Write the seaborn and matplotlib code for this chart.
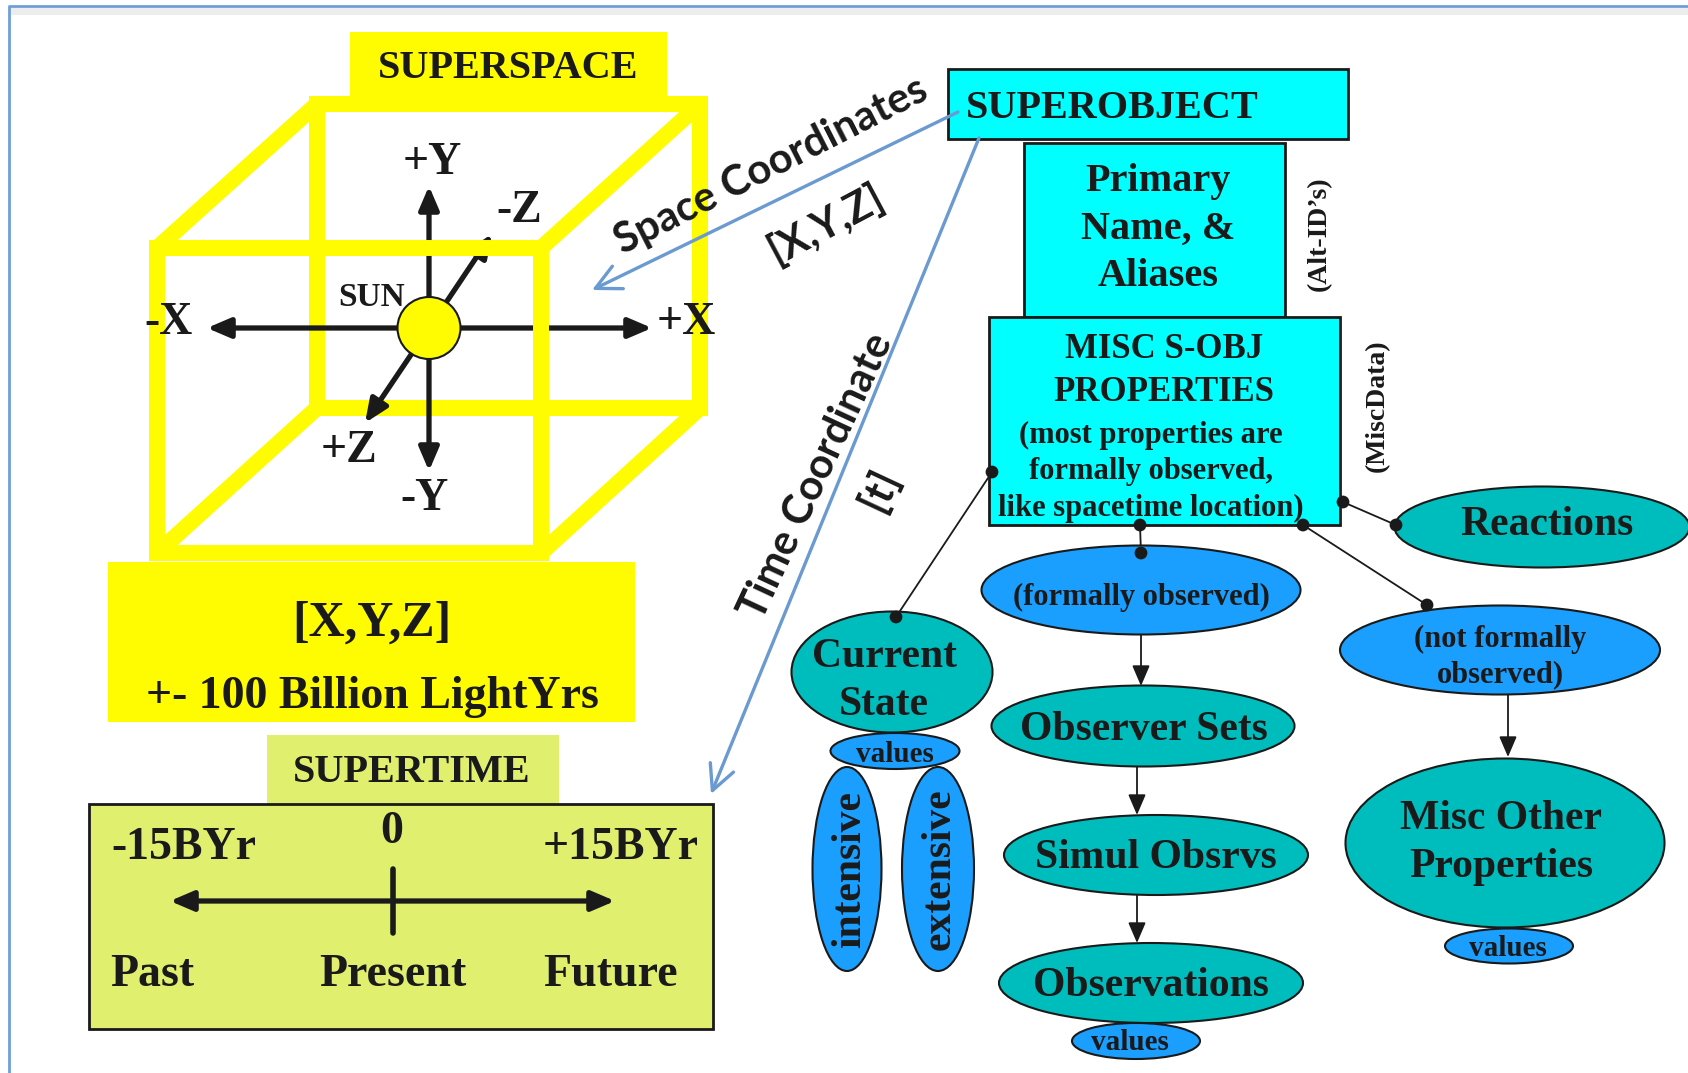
import pandas as pd
import seaborn as sns
import matplotlib.pyplot as plt
from matplotlib.patches import Rectangle, Ellipse, FancyArrowPatch

# ---- text content -------------------------------------------------------
space_title = "SUPERSPACE"
axis_names = ["+X", "-X", "+Y", "-Y", "+Z", "-Z"]
sun_label = "SUN"
space_range = ["[X,Y,Z]", "+- 100 Billion LightYrs"]
time_title = "SUPERTIME"
time_ticks = ["-15BYr", "0", "+15BYr"]
time_words = ["Past", "Present", "Future"]
arrow_labels = ["Space Coordinates", "[X,Y,Z]", "Time Coordinate", "[t]"]
box_labels = ["SUPEROBJECT", "Primary\nName, &\nAliases",
              "MISC S-OBJ\nPROPERTIES"]
misc_note = ["(most properties are", "formally observed,",
             "like spacetime location)"]
side_labels = ["(Alt-ID\u2019s)", "(MiscData)"]
node_labels = ["Reactions", "(formally observed)", "Current\nState", "values",
               "intensive", "extensive", "Observer Sets", "Simul Obsrvs",
               "Observations", "values", "(not formally\nobserved)",
               "Misc Other\nProperties", "values"]
node_kind = ["teal", "blue", "teal", "blue", "blue", "blue", "teal", "teal",
             "teal", "blue", "blue", "teal", "blue"]

# ---- layout (pixel space of the 1688 x 1073 canvas) ----------------------
W, H = 1688, 1073
node_xy = [(1542, 527), (1141, 590), (892, 672), (895, 751), (847, 869),
           (938, 869), (1143, 726), (1156, 855), (1151, 983), (1136, 1041),
           (1500, 650), (1505, 843), (1509, 946)]
node_wh = [(295, 81), (319, 89), (201, 121), (129, 36), (69, 204), (72, 204),
           (303, 81), (304, 80), (304, 80), (128, 36), (320, 89), (319, 169),
           (128, 35)]
node_txt = [(1547, 520), (1141, 592), (884, 676), (895, 749), (850, 869),
            (940, 869), (1144, 725), (1156, 853), (1151, 981), (1130, 1038),
            (1500, 652), (1501, 838), (1508, 943)]
node_size = [30, 22, 30, 21, 30, 30, 30, 30, 30, 21, 22, 30, 21]
node_rot = [0, 0, 0, 0, 90, 90, 0, 0, 0, 0, 0, 0, 0]
node_ls = [1.0, 1.0, 1.36, 1.0, 1.0, 1.0, 1.0, 1.0, 1.0, 1.0, 1.25, 1.37, 1.0]

connectors = [((992, 472), (896, 617)), ((1140, 525), (1141, 553)),
              ((1303, 525), (1427, 605)), ((1343, 502), (1396, 525))]
flow_arrows = [((1141, 635), (1141, 686)), ((1137, 767), (1137, 815)),
               ((1137, 895), (1137, 943)), ((1508, 695), (1508, 757))]

YELLOW = "#FFFB00"
LIME = "#E0EF6E"
CYAN = "#00FFFF"
TEAL = "#00BDBD"
BLUE = "#1A9FFF"
LINK = "#6A9AD0"
SERIF = ["Liberation Serif", "DejaVu Serif"]
SANS = ["Lato", "DejaVu Sans"]

sns.set_theme(style="white")
plt.rcParams["font.family"] = SERIF

fig = plt.figure(figsize=(W / 100, H / 100), dpi=100)
ax = fig.add_axes([0, 0, 1, 1])


def label(x, y, s, size, rot=0, family=SERIF, ha="center", z=10, ls=1.2):
    # matplotlib centres on the full line box; nudge flat text onto the caps
    dy = 5 if rot == 0 else 0
    ax.text(x, y + dy, s, fontsize=size, family=family, fontweight="bold",
            ha=ha, va="center", rotation=rot, rotation_mode="anchor",
            multialignment="center", linespacing=ls, zorder=z, color="k")


def arrow(p, q, style, lw, color="k", ms=20, z=2):
    ax.add_patch(FancyArrowPatch(p, q, arrowstyle=style, mutation_scale=ms,
                                 lw=lw, color=color, shrinkA=0, shrinkB=0,
                                 zorder=z))


HEAD = "-|>,head_length=0.7,head_width=0.3"

# page frame (left and top rule with a faint shadow)
ax.add_patch(Rectangle((10, 8), W, 7, fc="#EDEDED", ec="none", zorder=0))
ax.plot([9, 9, W], [H, 6, 6], color="#6F9FD6", lw=2, zorder=0.5)

# ---- superspace cube ----------------------------------------------------
ax.add_patch(Rectangle((350, 32), 317, 65, fc=YELLOW, ec="none", zorder=1))
label(508, 64, space_title, 29)
cube_lw = 11.5
ax.add_patch(Rectangle((317, 104), 383, 304, fill=False, ec=YELLOW,
                       lw=cube_lw, joinstyle="miter", zorder=1))
for (x1, y1), (x2, y2) in [((317, 104), (157, 248)), ((700, 104), (541, 248)),
                           ((317, 408), (157, 553)), ((700, 408), (541, 553))]:
    ax.plot([x1, x2], [y1, y2], color=YELLOW, lw=cube_lw,
            solid_capstyle="butt", zorder=1)

sun = (429, 328)
axis_tips = [(652, 328), (207, 328), (429, 186), (429, 471), (365, 423),
             (492, 234)]
for tip in axis_tips:
    arrow(sun, tip, HEAD, 3.8)
ax.add_patch(Rectangle((157, 248), 384, 305, fill=False, ec=YELLOW,
                       lw=cube_lw, joinstyle="miter", zorder=3))
ax.add_patch(Ellipse(sun, 63, 62, fc=YELLOW, ec="k", lw=1.5, zorder=4))
axis_txt = [(686, 318), (169, 318), (432, 158), (425, 494), (349, 446),
            (519, 206)]
for s, (x, y) in zip(axis_names, axis_txt):
    label(x, y, s, 33)
label(372, 292, sun_label, 24)

ax.add_patch(Rectangle((108, 562), 527, 160, fc=YELLOW, ec="none", zorder=1))
label(372, 619, space_range[0], 36)
label(372, 692, space_range[1], 33)

# ---- supertime ----------------------------------------------------------
ax.add_patch(Rectangle((267, 735), 292, 70, fc=LIME, ec="none", zorder=1))
label(412, 768, time_title, 29)
ax.add_patch(Rectangle((89, 804), 624, 225, fc=LIME, ec="k", lw=2, zorder=1))
for s, x, y in zip(time_ticks, [184, 392, 621], [843, 827, 843]):
    label(x, y, s, 33)
arrow((170, 901), (615, 901), "<|-|>,head_length=0.7,head_width=0.3", 3.8)
ax.plot([393, 393], [869, 933], color="k", lw=4, zorder=2)
for s, x in zip(time_words, [152, 393, 611]):
    label(x, 970, s, 33)

# ---- superobject boxes --------------------------------------------------
ax.add_patch(Rectangle((948, 69), 400, 70, fc=CYAN, ec="k", lw=2, zorder=3))
label(966, 104, box_labels[0], 29, ha="left")
ax.add_patch(Rectangle((1024, 143), 261, 174, fc=CYAN, ec="k", lw=2,
                       zorder=3))
label(1158, 224, box_labels[1], 29, ls=1.39)
ax.add_patch(Rectangle((989, 317), 351, 208, fc=CYAN, ec="k", lw=2,
                       zorder=3))
label(1164, 366, box_labels[2], 25, ls=1.38)
for s, y in zip(misc_note, [430, 467, 503]):
    label(1151, y, s, 22)
label(1319, 234, side_labels[0], 20, rot=90)
label(1377, 406, side_labels[1], 20, rot=90)

# ---- links to space / time ---------------------------------------------
arrow((958, 112), (592, 290), "->,head_length=0.9,head_width=0.45", 2.4,
      color=LINK, z=8)
arrow((979, 138), (711, 794), "->,head_length=0.9,head_width=0.45", 2.4,
      color=LINK, z=8)
label(771, 166, arrow_labels[0], 30, rot=27, family=SANS)
label(826, 224, arrow_labels[1], 30, rot=28, family=SANS)
label(817, 476, arrow_labels[2], 30, rot=65, family=SANS)
label(880, 489, arrow_labels[3], 30, rot=65, family=SANS)

# ---- property nodes -----------------------------------------------------
for (p, q) in connectors:
    ax.plot([p[0], q[0]], [p[1], q[1]], color="k", lw=1.3, zorder=2)
for (p, q) in flow_arrows:
    arrow(p, q, "-|>,head_length=0.7,head_width=0.3", 1.3, ms=18)

for i, s in enumerate(node_labels):
    fc = TEAL if node_kind[i] == "teal" else BLUE
    w, h = node_wh[i]
    ax.add_patch(Ellipse(node_xy[i], w, h, fc=fc, ec="k", lw=1.5, zorder=3))
    tx, ty = node_txt[i]
    label(tx, ty, s, node_size[i], rot=node_rot[i], ls=node_ls[i])

dots = pd.DataFrame([pt for pair in connectors for pt in pair],
                    columns=["x", "y"])
sns.scatterplot(data=dots, x="x", y="y", color="k", s=85, edgecolor="none",
                legend=False, ax=ax, zorder=9)

ax.set_xlim(0, W)
ax.set_ylim(H, 0)
ax.axis("off")
fig.savefig("out.png", dpi=100, facecolor="white")
